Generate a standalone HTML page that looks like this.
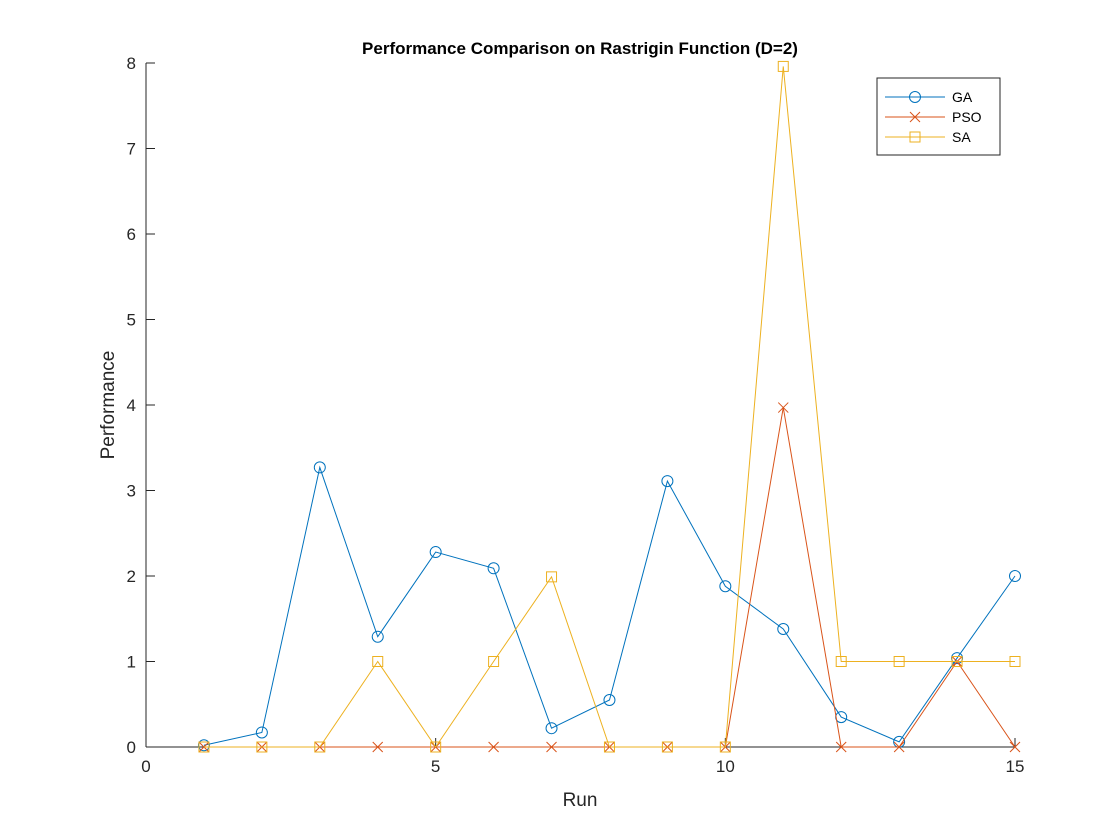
<!DOCTYPE html>
<html><head><meta charset="utf-8"><style>body{margin:0;background:#fff}svg{display:block;font-family:"Liberation Sans",sans-serif}</style></head>
<body>
<svg id="chart" width="1120" height="840">
<rect width="1120" height="840" fill="#fff"/>
<g id="axes"></g><g id="marks"></g>
</svg>
<script>
const runs=[1,2,3,4,5,6,7,8,9,10,11,12,13,14,15];
const gaValues=[0.02,0.17,3.27,1.29,2.28,2.09,0.22,0.55,3.11,1.88,1.38,0.35,0.06,1.04,2.0];
const psoValues=[0,0,0,0,0,0,0,0,0,0,3.97,0,0,1.0,0];
const saValues=[0,0,0,1,0,1,1.99,0,0,0,7.96,1,1,1,1];
const xTicks=[0,5,10,15];
const yTicks=[0,1,2,3,4,5,6,7,8];
const NS="http://www.w3.org/2000/svg";
const X0=146,X1=1015,Y0=747,Y1=63;
const xs=v=>X0+(v-0)/15*(X1-X0);
const ys=v=>Y0-(v-0)/8*(Y0-Y1);
function mk(t,a,p){const e=document.createElementNS(NS,t);for(const k in a)e.setAttribute(k,a[k]);p.appendChild(e);return e;}
const axes=document.getElementById('axes'),marks=document.getElementById('marks');
let e;
e=mk('line',{x1:X0,y1:Y0,x2:X1,y2:Y0,stroke:'#262626','stroke-width':1},axes);

e=mk('line',{x1:X0,y1:Y0,x2:X0,y2:Y1,stroke:'#262626','stroke-width':1},axes);

xTicks.forEach(t=>{mk('line',{x1:xs(t),y1:Y0,x2:xs(t),y2:Y0-9,stroke:'#262626'},axes);
e=mk('text',{x:xs(t),y:Y0+25,'text-anchor':'middle','font-size':17,fill:'#262626'},axes);e.textContent=t;
});
yTicks.forEach(t=>{mk('line',{x1:X0,y1:ys(t),x2:X0+9,y2:ys(t),stroke:'#262626'},axes);
e=mk('text',{x:X0-10,y:ys(t)+6,'text-anchor':'end','font-size':17,fill:'#262626'},axes);e.textContent=t;
});
e=mk('text',{x:580,y:806,'text-anchor':'middle','font-size':19,fill:'#262626'},axes);e.textContent='Run';

e=mk('text',{x:0,y:0,transform:'translate(114,405) rotate(-90)','text-anchor':'middle','font-size':19,fill:'#262626'},axes);e.textContent='Performance';

e=mk('text',{x:580,y:54,'text-anchor':'middle','font-size':17,'font-weight':'bold',fill:'#000'},axes);e.textContent='Performance Comparison on Rastrigin Function (D=2)';

function marker(type,x,y,c,p){
 if(type==='o')return mk('circle',{cx:x,cy:y,r:5.5,fill:'none',stroke:c},p);
 if(type==='x'){const g=mk('g',{},p);mk('path',{d:`M${x-5},${y-5}L${x+5},${y+5}M${x-5},${y+5}L${x+5},${y-5}`,stroke:c},g);return g;}
 return mk('rect',{x:x-5,y:y-5,width:10,height:10,fill:'none',stroke:c},p);
}
const series=[['ga',gaValues,'#0072BD','o'],['pso',psoValues,'#D95319','x'],['sa',saValues,'#EDB120','s']];
series.forEach(([n,vals,c,m])=>{
 const g=mk('g',{},marks);
 e=mk('polyline',{points:runs.map((r,i)=>xs(r)+','+ys(vals[i])).join(' '),fill:'none',stroke:c,'stroke-width':1},g);
 
 runs.forEach((r,i)=>{e=marker(m,xs(r),ys(vals[i]),c,g);});
});
const lg=mk('g',{},marks);
mk('rect',{x:877,y:78,width:123,height:77,fill:'#fff',stroke:'#262626'},lg);
[['GA','#0072BD','o'],['PSO','#D95319','x'],['SA','#EDB120','s']].forEach(([l,c,m],i)=>{
 const y=97+i*20;const g=mk('g',{},lg);
 mk('line',{x1:885,y1:y,x2:945,y2:y,stroke:c},g);marker(m,915,y,c,g);
 const t=mk('text',{x:952,y:y+5,'font-size':14,fill:'#000'},g);t.textContent=l;
});
</script>
</body></html>
